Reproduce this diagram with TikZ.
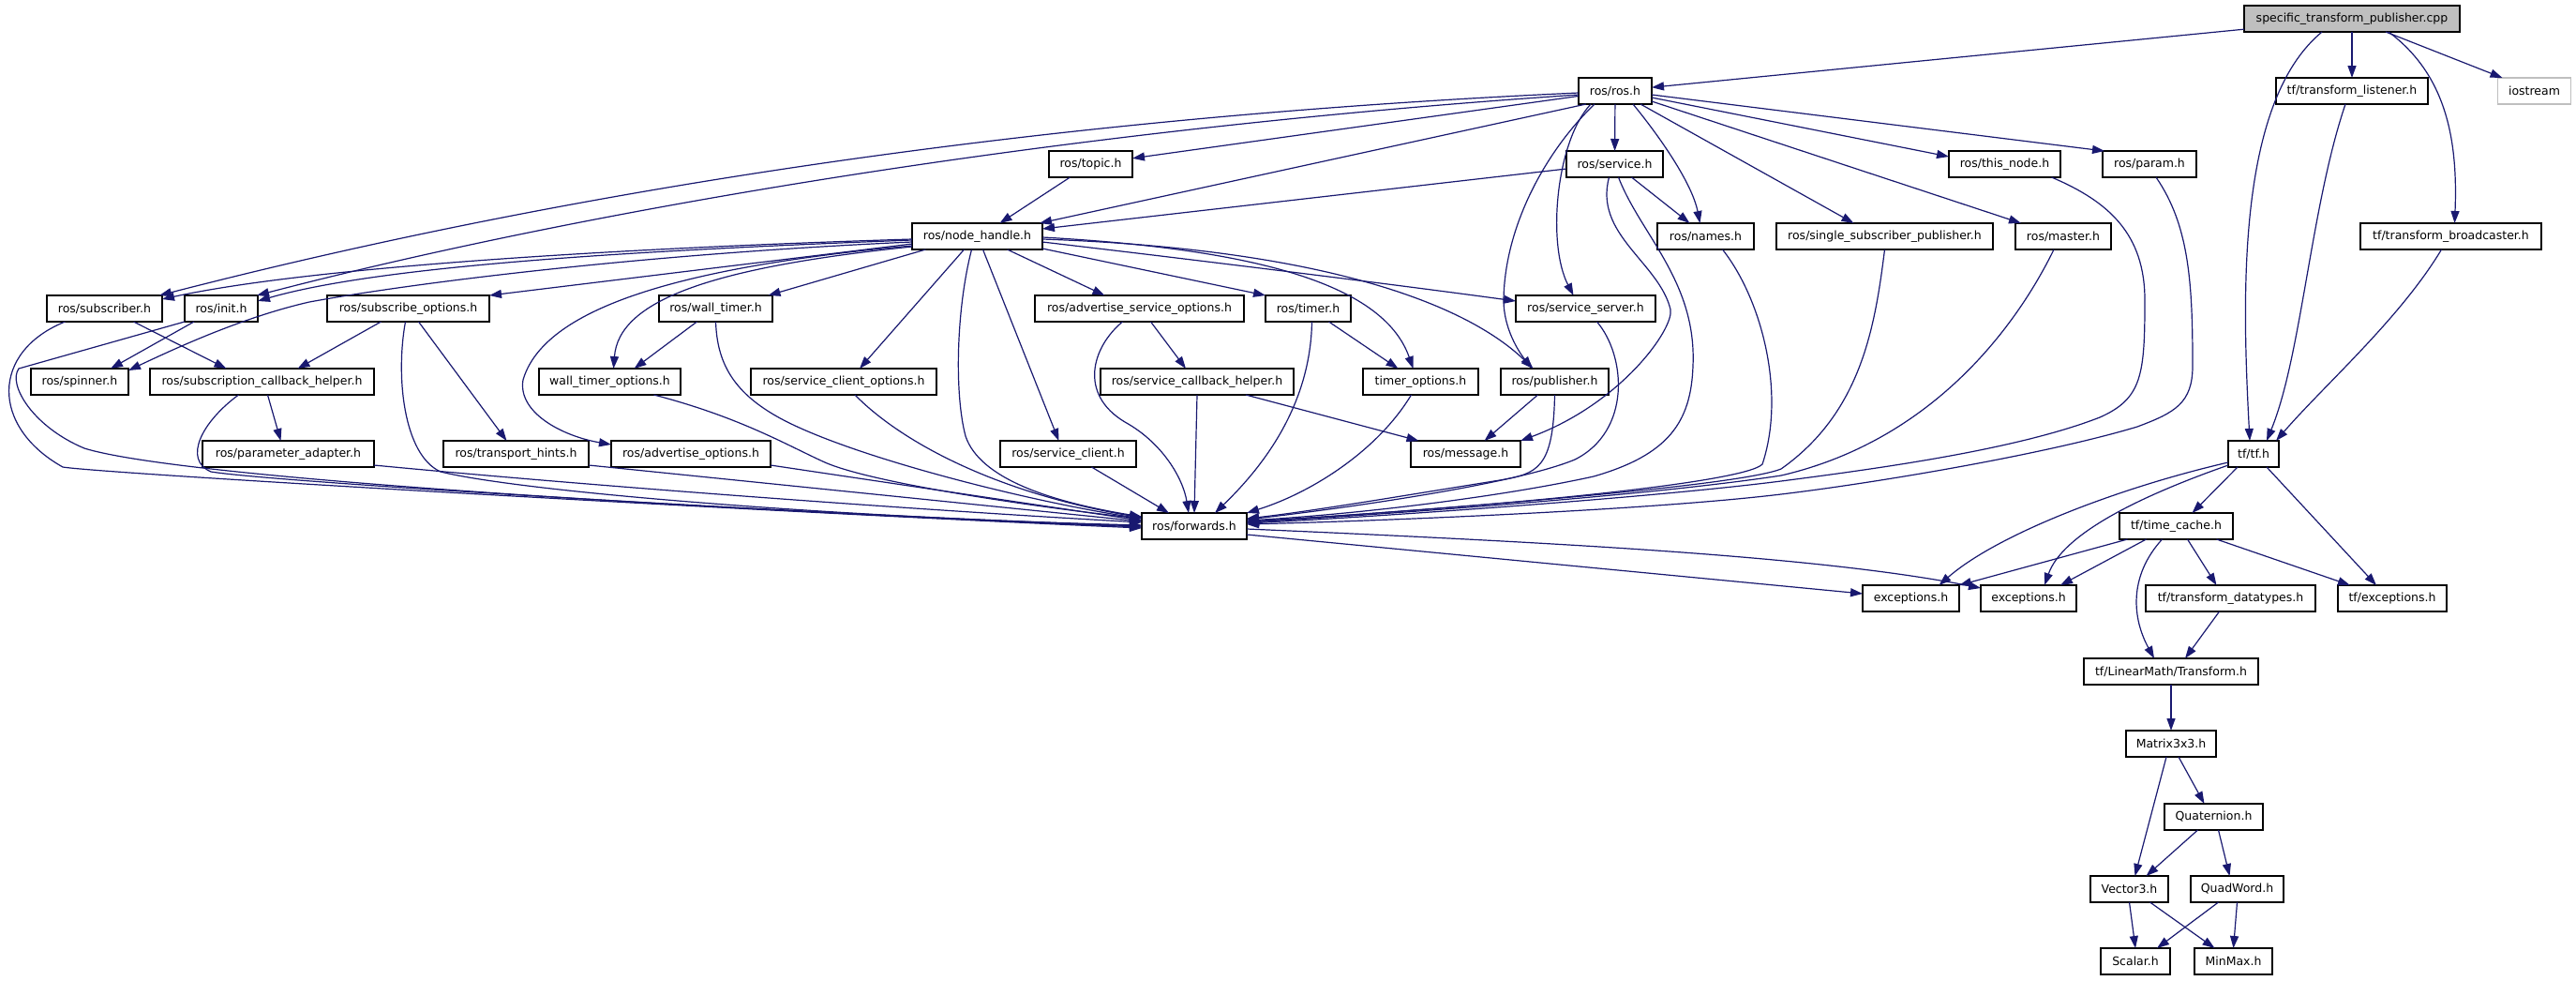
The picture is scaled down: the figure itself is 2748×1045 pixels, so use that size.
\documentclass[tikz,border=0pt]{standalone}
\usepackage{fontspec}
\newfontfamily\dvs{DejaVu Sans}
\usetikzlibrary{arrows.meta}
\definecolor{edgec}{HTML}{191970}
\definecolor{specfill}{HTML}{BFBFBF}
\definecolor{iogray}{HTML}{BFBFBF}
\begin{document}
\begin{tikzpicture}[x=1pt,y=-1pt,
  nd/.style={draw=black, fill=white, line width=1.2pt, minimum height=28pt, inner sep=0pt, outer sep=0pt, font=\dvs\fontsize{12.5}{15}\selectfont},
  ed/.style={draw=edgec, line width=1.2pt, -{Triangle[length=13pt,width=9pt]}}]
\fill[white] (0,0) rectangle (2748,1045);
\useasboundingbox (0,0) rectangle (2748,1045);
% nodes
\node[nd, fill=specfill, minimum width=230pt] (spec) at (2509,20) {specific\_transform\_publisher.cpp};
\node[nd, minimum width=78pt] (rosh) at (1723,97) {ros/ros.h};
\node[nd, minimum width=162pt] (listener) at (2509,97) {tf/transform\_listener.h};
\node[nd, draw=iogray, minimum width=78pt] (iostream) at (2703.5,97) {iostream};
\node[nd, minimum width=89pt] (topic) at (1163.5,175) {ros/topic.h};
\node[nd, minimum width=103pt] (service) at (1722.5,175) {ros/service.h};
\node[nd, minimum width=119pt] (thisnode) at (2138.5,175) {ros/this\_node.h};
\node[nd, minimum width=100pt] (param) at (2293,175) {ros/param.h};
\node[nd, minimum width=139pt] (nh) at (1042.5,252) {ros/node\_handle.h};
\node[nd, minimum width=103pt] (names) at (1819.5,252) {ros/names.h};
\node[nd, minimum width=231pt] (singlesub) at (2010.5,252) {ros/single\_subscriber\_publisher.h};
\node[nd, minimum width=102pt] (master) at (2201,252) {ros/master.h};
\node[nd, minimum width=193pt] (broadcaster) at (2614.5,252) {tf/transform\_broadcaster.h};
\node[nd, minimum width=123pt] (sub) at (111.5,329) {ros/subscriber.h};
\node[nd, minimum width=78pt] (init) at (236,329) {ros/init.h};
\node[nd, minimum width=173pt] (subopts) at (435.5,329) {ros/subscribe\_options.h};
\node[nd, minimum width=121pt] (walltimer) at (763.5,329) {ros/wall\_timer.h};
\node[nd, minimum width=223pt] (advsrvopts) at (1215.5,329) {ros/advertise\_service\_options.h};
\node[nd, minimum width=91pt] (timer) at (1395.5,329) {ros/timer.h};
\node[nd, minimum width=149pt] (srvserver) at (1691.5,329) {ros/service\_server.h};
\node[nd, minimum width=104pt] (spinner) at (85,407) {ros/spinner.h};
\node[nd, minimum width=239pt] (subcb) at (279.5,407) {ros/subscription\_callback\_helper.h};
\node[nd, minimum width=151pt] (walltimeropts) at (650.5,407) {wall\_timer\_options.h};
\node[nd, minimum width=198pt] (srvclientopts) at (900,407) {ros/service\_client\_options.h};
\node[nd, minimum width=206pt] (srvcb) at (1277,407) {ros/service\_callback\_helper.h};
\node[nd, minimum width=123pt] (timeropts) at (1515.5,407) {timer\_options.h};
\node[nd, minimum width=115pt] (publisher) at (1658.5,407) {ros/publisher.h};
\node[nd, minimum width=183pt] (paramadapter) at (307.5,484) {ros/parameter\_adapter.h};
\node[nd, minimum width=155pt] (transporthints) at (550.5,484) {ros/transport\_hints.h};
\node[nd, minimum width=170pt] (advopts) at (737,484) {ros/advertise\_options.h};
\node[nd, minimum width=145pt] (srvclient) at (1139.5,484) {ros/service\_client.h};
\node[nd, minimum width=117pt] (message) at (1563.5,484) {ros/message.h};
\node[nd, minimum width=54pt] (tfh) at (2404,484) {tf/tf.h};
\node[nd, minimum width=112pt] (fwd) at (1274,561) {ros/forwards.h};
\node[nd, minimum width=121pt] (timecache) at (2321.5,561) {tf/time\_cache.h};
\node[nd, minimum width=103pt] (exc1) at (2038.5,638) {exceptions.h};
\node[nd, minimum width=102pt] (exc2) at (2164,638) {exceptions.h};
\node[nd, minimum width=181pt] (datatypes) at (2379.5,638) {tf/transform\_datatypes.h};
\node[nd, minimum width=116pt] (tfexc) at (2552,638) {tf/exceptions.h};
\node[nd, minimum width=186pt] (transform) at (2316,716) {tf/LinearMath/Transform.h};
\node[nd, minimum width=96pt] (matrix) at (2316,793) {Matrix3x3.h};
\node[nd, minimum width=105pt] (quaternion) at (2361.5,871) {Quaternion.h};
\node[nd, minimum width=83pt] (vector3) at (2271.5,948) {Vector3.h};
\node[nd, minimum width=99pt] (quadword) at (2386.5,948) {QuadWord.h};
\node[nd, minimum width=74pt] (scalar) at (2278,1025) {Scalar.h};
\node[nd, minimum width=83pt] (minmax) at (2382.5,1025) {MinMax.h};
% edges from spec
\draw[ed] (spec) -- (rosh);
\draw[ed] (spec) -- (listener);
\draw[ed] ([xshift=36pt]spec.south) -- ([xshift=-34pt]iostream.north);
\draw[ed] ([xshift=39pt]spec.south) .. controls (2610,80) and (2622,150) .. ([xshift=4pt]broadcaster.north);
\draw[ed] ([xshift=-32pt]spec.south) .. controls (2385,110) and (2392,320) .. ([xshift=-4pt]tfh.north);
\draw[ed] ([xshift=-7pt]listener.south) .. controls (2465,220) and (2455,380) .. ([xshift=14pt]tfh.north);
\draw[ed] ([xshift=-10pt]broadcaster.south) .. controls (2560,340) and (2480,410) .. ([xshift=24pt]tfh.north);
% edges from ros.h
\draw[ed] ([yshift=-2pt]rosh.west) .. controls (1000,130) and (500,230) .. ([xshift=-3pt]sub.north east);
\draw[ed] ([yshift=-4pt]rosh.west) .. controls (1100,140) and (600,230) .. ([xshift=-1pt]init.north east);
\draw[ed] (rosh) -- (topic);
\draw[ed] ([xshift=8pt]rosh.south west) -- ([xshift=-3pt]nh.north east);
\draw[ed] (rosh) -- (service);
\draw[ed] ([xshift=-26pt]rosh.south) .. controls (1660,150) and (1650,260) .. ([xshift=-13pt]srvserver.north);
\draw[ed] ([xshift=-22pt]rosh.south) .. controls (1650,160) and (1605,240) .. (1604,320) .. controls (1604,350) and (1620,375) .. ([xshift=-24pt]publisher.north);
\draw[ed] ([xshift=19pt]rosh.south) .. controls (1770,145) and (1805,195) .. ([xshift=-6pt]names.north);
\draw[ed] ([xshift=27pt]rosh.south) -- ([xshift=-33pt]singlesub.north);
\draw[ed] ([yshift=-4pt]rosh.east) -- ([xshift=-48pt]param.north);
\draw[ed] ([yshift=-7pt]rosh.east) -- ([yshift=8pt]thisnode.west);
\draw[ed] ([yshift=-11pt]rosh.east) -- ([xshift=-45pt]master.north);
% service, topic
\draw[ed] ([yshift=-5pt]service.west) -- ([yshift=8pt]nh.east);
\draw[ed] ([xshift=-22pt]topic.south) -- ([xshift=24pt]nh.north);
\draw[ed] ([xshift=18pt]service.south) -- ([xshift=-17pt]names.north);
\draw[ed] ([xshift=-6pt]service.south) .. controls (1700,250) and (1770,280) .. (1782,330) .. controls (1786,350) and (1730,430) .. (message.north east);
\draw[ed] ([xshift=4pt]service.south) .. controls (1750,250) and (1810,300) .. (1806,390) .. controls (1804,450) and (1780,485) .. (1700,508) .. controls (1600,530) and (1450,548) .. ([yshift=6pt]fwd.east);
% node_handle
\draw[ed] ([yshift=-3pt]nh.west) .. controls (650,265) and (330,285) .. ([yshift=-4pt]sub.north east);
\draw[ed] ([yshift=-4pt]nh.west) .. controls (650,268) and (400,285) .. ([yshift=-6pt]init.north east);
\draw[ed] ([yshift=-8pt]nh.west) -- (subopts.north east);
\draw[ed] ([yshift=-6pt]nh.west) .. controls (700,270) and (450,300) .. (330,322) .. controls (260,338) and (190,370) .. ([yshift=12pt]spinner.east);
\draw[ed] ([yshift=-10pt]nh.west) .. controls (720,285) and (580,330) .. (558,405) .. controls (552,440) and (600,465) .. ([yshift=-4pt]advopts.north west);
\draw[ed] ([yshift=-11pt]nh.west) .. controls (760,285) and (660,320) .. ([xshift=4pt]walltimeropts.north);
\draw[ed] ([xshift=-55pt]nh.south) -- ([xshift=56pt]walltimer.north);
\draw[ed] ([xshift=-14pt]nh.south) -- ([xshift=17pt]srvclientopts.north);
\draw[ed] ([xshift=-6pt]nh.south) .. controls (1020,330) and (1018,420) .. (1030,465) .. controls (1045,510) and (1120,535) .. ([yshift=10pt]fwd.west);
\draw[ed] ([xshift=6pt]nh.south) -- ([xshift=-10pt]srvclient.north);
\draw[ed] ([xshift=32pt]nh.south) -- ([xshift=-37pt]advsrvopts.north);
\draw[ed] ([yshift=-13pt]nh.east) -- (timer.north west);
\draw[ed] ([yshift=-6pt]nh.east) .. controls (1300,280) and (1500,305) .. ([yshift=8pt]srvserver.west);
\draw[ed] ([yshift=-1pt]nh.east) .. controls (1330,265) and (1475,300) .. ([xshift=-8pt]timeropts.north);
\draw[ed] ([yshift=-3pt]nh.east) .. controls (1400,265) and (1560,320) .. ([xshift=-23pt]publisher.north);
% level 4
\draw[ed] ([xshift=31pt]sub.south) -- ([xshift=-38pt]subcb.north);
\draw[ed] ([xshift=-29pt]init.south) -- ([xshift=33pt]spinner.north);
\draw[ed] ([xshift=-29pt]subopts.south) -- ([xshift=38pt]subcb.north);
\draw[ed] ([xshift=11pt]subopts.south) -- ([xshift=-10pt]transporthints.north);
\draw[ed] ([xshift=-20pt]walltimer.south) -- ([xshift=26pt]walltimeropts.north);
\draw[ed] ([xshift=12pt]advsrvopts.south) -- ([xshift=-12pt]srvcb.north);
\draw[ed] ([xshift=22pt]timer.south) -- ([xshift=-24pt]timeropts.north);
\draw[ed] ([xshift=6pt]subcb.south) -- ([xshift=-8pt]paramadapter.north);
\draw[ed] ([xshift=52pt]srvcb.south) -- ([xshift=-50pt]message.north);
\draw[ed] ([xshift=-18pt]publisher.south) -- ([xshift=20pt]message.north);
% into forwards.h from the left
\draw[ed] ([xshift=-42pt]sub.south) .. controls (-10,375) and (-10,455) .. (67,498) .. controls (110,505) and (800,545) .. ([yshift=-2pt]fwd.west);
\draw[ed] (init.south west) -- (20,393) .. controls (8,410) and (35,455) .. (90,478) .. controls (200,512) and (800,545) .. ([yshift=-1pt]fwd.west);
\draw[ed] ([xshift=-3pt]subopts.south) .. controls (422,400) and (430,485) .. (470,503) .. controls (560,525) and (900,552) .. ([yshift=1pt]fwd.west);
\draw[ed] ([xshift=-25pt]subcb.south) .. controls (215,450) and (195,490) .. (225,503) .. controls (300,515) and (900,550) .. (fwd.west);
\draw[ed] ([yshift=-12pt]paramadapter.east) .. controls (650,520) and (1000,545) .. ([yshift=4pt]fwd.west);
\draw[ed] ([yshift=-12pt]transporthints.east) -- ([yshift=5pt]fwd.west);
\draw[ed] ([yshift=-12pt]advopts.east) -- ([yshift=6pt]fwd.west);
\draw[ed] ([xshift=47pt]walltimeropts.south) .. controls (790,445) and (840,475) .. (880,493) .. controls (930,515) and (1100,540) .. ([yshift=8pt]fwd.west);
\draw[ed] (walltimer.south) .. controls (765,385) and (780,420) .. (840,450) .. controls (920,490) and (1100,535) .. ([yshift=8pt]fwd.west);
\draw[ed] ([xshift=12pt]srvclientopts.south) .. controls (960,470) and (1060,525) .. ([yshift=9pt]fwd.west);
% into forwards.h from above
\draw[ed] ([xshift=25pt]srvclient.south) -- ([xshift=-27pt]fwd.north);
\draw[ed] ([xshift=-18pt]advsrvopts.south) .. controls (1165,370) and (1150,420) .. (1200,450) .. controls (1240,472) and (1262,510) .. ([xshift=-6pt]fwd.north);
\draw[ed] (srvcb.south) -- (fwd.north);
\draw[ed] ([xshift=4pt]timer.south) .. controls (1398,430) and (1350,495) .. ([xshift=22pt]fwd.north);
\draw[ed] ([xshift=-10pt]timeropts.south) .. controls (1470,480) and (1400,525) .. (fwd.north east);
% into forwards.h from the right
\draw[ed] (publisher.south) .. controls (1657,500) and (1640,505) .. (1600,512) .. controls (1500,528) and (1400,545) .. ([yshift=8pt]fwd.east);
\draw[ed] ([xshift=12pt]srvserver.south) .. controls (1735,380) and (1740,460) .. (1680,490) .. controls (1620,515) and (1450,540) .. ([yshift=7pt]fwd.east);
\draw[ed] ([xshift=18pt]names.south) .. controls (1880,320) and (1905,420) .. (1880,495) .. controls (1860,515) and (1600,540) .. ([yshift=5pt]fwd.east);
\draw[ed] (singlesub.south) .. controls (2000,350) and (1985,440) .. (1900,500) .. controls (1850,520) and (1500,545) .. ([yshift=4pt]fwd.east);
\draw[ed] ([xshift=-10pt]master.south) .. controls (2150,350) and (2060,470) .. (1900,507) .. controls (1750,530) and (1450,550) .. ([yshift=4pt]fwd.east);
\draw[ed] ([xshift=50pt]thisnode.south) .. controls (2250,215) and (2288,250) .. (2288,320) .. controls (2288,400) and (2285,425) .. (2240,445) .. controls (2150,480) and (2000,500) .. (1900,513) .. controls (1750,532) and (1450,552) .. ([yshift=3pt]fwd.east);
\draw[ed] ([xshift=7pt]param.south) .. controls (2335,240) and (2339,300) .. (2339,390) .. controls (2339,430) and (2320,440) .. (2280,455) .. controls (2180,485) and (2000,515) .. (1900,527) .. controls (1750,545) and (1450,556) .. ([yshift=2pt]fwd.east);
% forwards to exceptions
\draw[ed] ([yshift=-3pt]fwd.east) .. controls (1700,580) and (1950,595) .. ([yshift=11pt]exc2.west);
\draw[ed] ([yshift=-9pt]fwd.east) -- ([yshift=5pt]exc1.west);
% tf part
\draw[ed] ([yshift=-9pt]tfh.west) .. controls (2260,520) and (2130,570) .. ([xshift=30pt]exc1.north);
\draw[ed] ([yshift=-12pt]tfh.west) .. controls (2280,530) and (2200,570) .. ([xshift=17pt]exc2.north);
\draw[ed] ([xshift=-17pt]tfh.south) -- ([xshift=17pt]timecache.north);
\draw[ed] ([xshift=14pt]tfh.south) -- ([xshift=-17pt]tfexc.north);
\draw[ed] ([xshift=-52pt]timecache.south) -- (exc1.north east);
\draw[ed] ([xshift=-32pt]timecache.south) -- ([xshift=34pt]exc2.north);
\draw[ed] ([xshift=-15pt]timecache.south) .. controls (2270,615) and (2275,660) .. ([xshift=-18pt]transform.north);
\draw[ed] ([xshift=12pt]timecache.south) -- ([xshift=-15pt]datatypes.north);
\draw[ed] ([xshift=43pt]timecache.south) -- ([xshift=-45pt]tfexc.north);
\draw[ed] ([xshift=-12pt]datatypes.south) -- ([xshift=15pt]transform.north);
\draw[ed] (transform) -- (matrix);
\draw[ed] ([xshift=-5pt]matrix.south) -- ([xshift=6pt]vector3.north);
\draw[ed] ([xshift=8pt]matrix.south) -- ([xshift=-10pt]quaternion.north);
\draw[ed] ([xshift=-17pt]quaternion.south) -- ([xshift=18pt]vector3.north);
\draw[ed] ([xshift=5pt]quaternion.south) -- ([xshift=-8pt]quadword.north);
\draw[ed] (vector3.south) -- (scalar.north);
\draw[ed] ([xshift=22pt]vector3.south) -- ([xshift=-20pt]minmax.north);
\draw[ed] ([xshift=-20pt]quadword.south) -- ([xshift=23pt]scalar.north);
\draw[ed] (quadword.south) -- (minmax.north);
\end{tikzpicture}
\end{document}
